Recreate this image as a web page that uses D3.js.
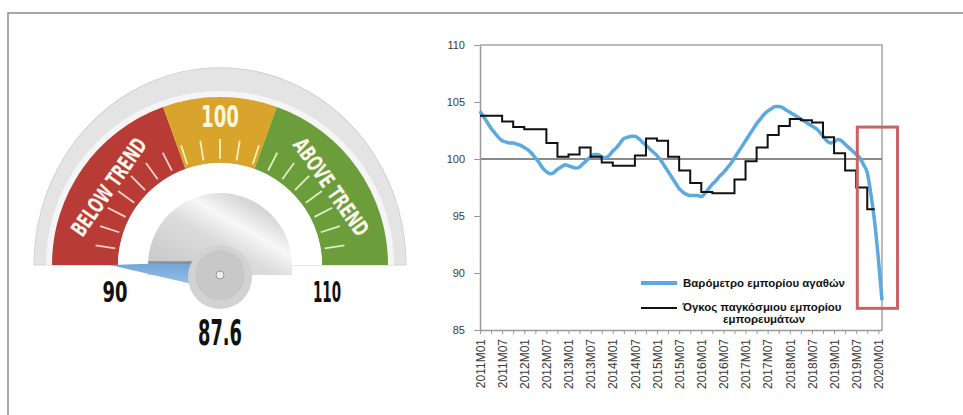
<!DOCTYPE html>
<html>
<head>
<meta charset="utf-8">
<script src="https://cdn.jsdelivr.net/npm/d3@7"></script>
<style>
  body { margin: 0; background: #fff; }
  svg { display: block; }
</style>
</head>
<body>
<svg id="chart" width="963" height="415"></svg>
<script>
// gauge
const gaugeValue = 87.6;
const gaugeMin = 90;
const gaugeMax = 110;
const bandBreaks = [90, 97.8, 102.2, 110];
const bandLabels = ['BELOW TREND', '100', 'ABOVE TREND'];
const bandColors = ['#b93b36', '#d9a42c', '#6b9e3b'];
const bandTickColors = ['#f4d2c8', '#fbefb8', '#dcefc4'];
const gaugeTicks = [91, 92, 93, 94, 95, 96, 97, 98, 99, 100, 101, 102, 103, 104, 105, 106, 107, 108, 109];

// line chart, months counted from 2011M01
const xLabels = ['2011M01', '2011M07', '2012M01', '2012M07', '2013M01', '2013M07', '2014M01', '2014M07',
  '2015M01', '2015M07', '2016M01', '2016M07', '2017M01', '2017M07', '2018M01', '2018M07',
  '2019M01', '2019M07', '2020M01'];
const yTicks = [85, 90, 95, 100, 105, 110];

// goods trade barometer, monthly 2011M01..2020M02
const barometer = [
  104.2, 103.7, 103.2, 102.7, 102.3, 101.9, 101.6, 101.5, 101.4, 101.4, 101.3, 101.2,
  101.0, 100.8, 100.5, 100.1, 99.7, 99.2, 98.9, 98.7, 98.8, 99.1, 99.3, 99.5,
  99.4, 99.3, 99.2, 99.3, 99.6, 99.9, 100.2, 100.4, 100.4, 100.2, 100.1, 100.3,
  100.7, 101.0, 101.4, 101.8, 101.9, 102.0, 102.0, 101.8, 101.5, 101.2, 100.9, 100.6,
  100.3, 99.9, 99.4, 98.9, 98.4, 97.9, 97.4, 97.1, 96.9, 96.8, 96.8, 96.8,
  96.7, 97.0, 97.4, 97.8, 98.1, 98.5, 98.8, 99.2, 99.6, 100.1, 100.6, 101.1,
  101.6, 102.1, 102.6, 103.1, 103.5, 103.9, 104.2, 104.4, 104.6, 104.6, 104.5, 104.3,
  104.1, 103.9, 103.7, 103.5, 103.3, 103.1, 102.9, 102.7, 102.4, 102.0, 101.6, 101.4,
  101.5, 101.7, 101.6, 101.3, 101.0, 100.7, 100.4, 100.1, 99.5, 98.8, 96.9, 94.5,
  91.3, 87.6
];

// merchandise trade volume, quarterly 2011Q1..2019Q4
const tradeVolume = [
  103.8, 103.8, 103.3, 102.8, 102.6, 102.6, 101.4, 100.2, 100.4, 101.0, 100.2, 99.7,
  99.4, 99.4, 100.3, 101.8, 101.6, 100.2, 99.0, 97.9, 97.1, 97.0, 97.0, 98.2,
  99.8, 101.0, 102.1, 102.9, 103.5, 103.4, 103.2, 101.9, 100.5, 99.0, 97.5, 95.6
];

const legendNames = ['Βαρόμετρο εμπορίου αγαθών', 'Όγκος παγκόσμιου εμπορίου', 'εμπορευμάτων'];

// highlighted recent period: months and values covered by the red box
const highlightMonths = [102.3, 113.2];
const highlightValues = [86.9, 102.8];

const svg = d3.select('#chart');
const condensed = "'Liberation Sans Narrow', 'DejaVu Sans Condensed', 'Arial Narrow', sans-serif";

// frame (top and left only)
svg.append('path')
  .attr('d', 'M8,415 L8,13 L963,13')
  .attr('fill', 'none')
  .attr('stroke', '#8c8c8c')
  .attr('stroke-width', 1.5);

drawGauge();
drawChart();

function drawGauge() {
  const defs = svg.append('defs');
  const dome = defs.append('linearGradient').attr('id', 'domeGrad')
    .attr('x1', 0).attr('y1', 1).attr('x2', 1).attr('y2', 0);
  [['0', '#c4c4c4'], ['0.45', '#dcdcdc'], ['0.62', '#f7f7f7'], ['0.78', '#d8d8d8'], ['1', '#c6c6c6']]
    .forEach(([o, c]) => dome.append('stop').attr('offset', o).attr('stop-color', c));
  const needleGrad = defs.append('linearGradient').attr('id', 'needleGrad')
    .attr('x1', 0).attr('y1', 0).attr('x2', 1).attr('y2', 0);
  needleGrad.append('stop').attr('offset', '0').attr('stop-color', '#9cc3e8');
  needleGrad.append('stop').attr('offset', '1').attr('stop-color', '#6fa3d6');

  const g = svg.append('g').attr('transform', 'translate(220,265)');
  const angle = d3.scaleLinear().domain([gaugeMin, gaugeMax]).range([-Math.PI / 2, Math.PI / 2]).clamp(true);
  const arc = d3.arc();

  // outer grey rim, a bit taller than wide
  g.append('path')
    .attr('d', arc({ innerRadius: 0, outerRadius: 186, startAngle: -Math.PI / 2, endAngle: Math.PI / 2 }))
    .attr('transform', 'scale(1,1.06)')
    .attr('fill', '#e4e4e4')
    .attr('stroke', '#d2d2d2');
  g.append('path')
    .attr('d', arc({ innerRadius: 168, outerRadius: 174, startAngle: -Math.PI / 2, endAngle: Math.PI / 2 }))
    .attr('fill', '#f5f5f5');

  // coloured bands
  for (let i = 0; i < bandColors.length; i++) {
    g.append('path')
      .attr('d', arc({ innerRadius: 102, outerRadius: 168, startAngle: angle(bandBreaks[i]), endAngle: angle(bandBreaks[i + 1]) }))
      .attr('fill', bandColors[i]);
  }

  // white inner ring
  g.append('path')
    .attr('d', arc({ innerRadius: 0, outerRadius: 102, startAngle: -Math.PI / 2, endAngle: Math.PI / 2 }))
    .attr('fill', '#fff');

  // ticks
  gaugeTicks.forEach(t => {
    const a = angle(t);
    const band = t < bandBreaks[1] ? 0 : t < bandBreaks[2] ? 1 : 2;
    g.append('line')
      .attr('x1', 106 * Math.sin(a)).attr('y1', -106 * Math.cos(a))
      .attr('x2', 126 * Math.sin(a)).attr('y2', -126 * Math.cos(a))
      .attr('stroke', bandTickColors[band])
      .attr('stroke-width', 1.8);
  });

  // band labels
  [0, 2].forEach(i => {
    const a = (angle(bandBreaks[i]) + angle(bandBreaks[i + 1])) / 2;
    const deg = a * 180 / Math.PI;
    g.append('text')
      .attr('transform', `translate(${136 * Math.sin(a)},${-136 * Math.cos(a)}) rotate(${deg})`)
      .attr('text-anchor', 'middle')
      .attr('dy', '0.36em')
      .attr('fill', '#fbf4ea')
      .attr('font-family', condensed)
      .attr('font-weight', 'bold')
      .attr('font-size', 22)
      .attr('textLength', 114)
      .attr('lengthAdjust', 'spacingAndGlyphs')
      .text(bandLabels[i]);
  });
  g.append('text')
    .attr('x', 0).attr('y', -138)
    .attr('text-anchor', 'middle')
    .attr('fill', '#fdf6d8')
    .attr('font-family', condensed)
    .attr('font-weight', 'bold')
    .attr('font-size', 31)
    .attr('textLength', 38)
    .attr('lengthAdjust', 'spacingAndGlyphs')
    .text(bandLabels[1]);

  // dome
  g.append('path')
    .attr('d', 'M-72,10 L-72,0 A72,72 0 0 1 72,0 L72,10 Z')
    .attr('fill', 'url(#domeGrad)');

  // needle
  const na = angle(gaugeValue) * 180 / Math.PI;
  const needle = g.append('g').attr('transform', `rotate(${na})`);
  needle.append('path')
    .attr('d', 'M0,-110 L3,-15 L-22,-15 Z')
    .attr('fill', 'url(#needleGrad)');
  needle.append('line')
    .attr('x1', 2.5).attr('y1', -72).attr('x2', 2.5).attr('y2', -15)
    .attr('stroke', '#8a8f96').attr('stroke-width', 2.5);

  // hub
  g.append('circle').attr('cx', 0).attr('cy', 12).attr('r', 32).attr('fill', '#d2d2d2');
  g.append('circle').attr('cx', 0).attr('cy', 10).attr('r', 25).attr('fill', '#c8c8c8');
  g.append('circle').attr('cx', 0).attr('cy', 10).attr('r', 4).attr('fill', '#efefef').attr('stroke', '#9a9a9a');

  // scale labels and value
  const scaleText = (txt, x, y, size, len) => g.append('text')
    .attr('x', x).attr('y', y)
    .attr('text-anchor', 'middle')
    .attr('fill', '#111')
    .attr('font-family', condensed)
    .attr('font-weight', 'bold')
    .attr('font-size', size)
    .attr('textLength', len)
    .attr('lengthAdjust', 'spacingAndGlyphs')
    .text(txt);
  scaleText(String(gaugeMin), -105, 37, 28, 25);
  scaleText(String(gaugeMax), 107, 37, 28, 28);
  scaleText(String(gaugeValue), 0, 80, 35, 44);
}

function drawChart() {
  const x = d3.scaleLinear().domain([0, 109]).range([480, 882]);
  const y = d3.scaleLinear().domain([85, 110]).range([330, 45]);
  const g = svg.append('g');

  // box top and right
  g.append('path')
    .attr('d', `M${x(0)},${y(110)} L${x(109)},${y(110)} L${x(109)},${y(85)}`)
    .attr('fill', 'none')
    .attr('stroke', '#a6a6a6')
    .attr('stroke-width', 1.5);

  // 100 reference line
  g.append('line')
    .attr('x1', x(0)).attr('x2', x(109))
    .attr('y1', y(100)).attr('y2', y(100))
    .attr('stroke', '#8a8a8a')
    .attr('stroke-width', 2);

  const yAxis = g.append('g')
    .attr('transform', `translate(${x(0)},0)`)
    .call(d3.axisLeft(y).tickValues(yTicks).tickSize(6).tickSizeOuter(0).tickPadding(9));
  yAxis.select('.domain').attr('stroke', '#999').attr('stroke-width', 1.5);
  yAxis.selectAll('line').attr('stroke', '#999');
  yAxis.selectAll('text')
    .attr('fill', '#3a3a3a')
    .attr('font-family', "'Liberation Sans', Arial, sans-serif")
    .attr('font-size', 11);

  const tickMonths = d3.range(0, 110, 3);
  const xAxis = g.append('g')
    .attr('transform', `translate(0,${y(85)})`)
    .call(d3.axisBottom(x).tickValues(tickMonths).tickSize(4).tickSizeOuter(0)
      .tickFormat(m => m % 6 === 0 ? xLabels[m / 6] : ''));
  xAxis.select('.domain').attr('stroke', '#999').attr('stroke-width', 1.5);
  xAxis.selectAll('line').attr('stroke', '#999');
  xAxis.selectAll('text')
    .attr('transform', 'rotate(-90)')
    .attr('text-anchor', 'end')
    .attr('x', -9)
    .attr('y', 0)
    .attr('dy', '0.35em')
    .attr('fill', '#3a3a3a')
    .attr('font-family', "'Liberation Sans', Arial, sans-serif")
    .attr('font-size', 12);

  // barometer
  g.append('path')
    .datum(barometer)
    .attr('fill', 'none')
    .attr('stroke', '#5aaae0')
    .attr('stroke-width', 3.5)
    .attr('stroke-linejoin', 'round')
    .attr('d', d3.line().x((d, i) => x(i)).y(d => y(d)).curve(d3.curveMonotoneX));

  // trade volume (quarterly steps, last quarter drawn up to its last month)
  const volPts = tradeVolume.map((v, i) => [i * 3, v]);
  volPts.push([(tradeVolume.length - 1) * 3 + 2, tradeVolume[tradeVolume.length - 1]]);
  g.append('path')
    .datum(volPts)
    .attr('fill', 'none')
    .attr('stroke', '#111')
    .attr('stroke-width', 2)
    .attr('d', d3.line().x(d => x(d[0])).y(d => y(d[1])).curve(d3.curveStepAfter));

  // highlight box
  g.append('rect')
    .attr('x', x(highlightMonths[0]))
    .attr('y', y(highlightValues[1]))
    .attr('width', x(highlightMonths[1]) - x(highlightMonths[0]))
    .attr('height', y(highlightValues[0]) - y(highlightValues[1]))
    .attr('fill', 'none')
    .attr('stroke', '#c96466')
    .attr('stroke-width', 3);

  // legend
  const lg = g.append('g').attr('font-family', "'Liberation Sans', Arial, sans-serif")
    .attr('font-weight', 'bold').attr('font-size', 11.5).attr('fill', '#111');
  lg.append('line').attr('x1', 641).attr('x2', 677).attr('y1', 283).attr('y2', 283)
    .attr('stroke', '#5aaae0').attr('stroke-width', 4);
  lg.append('line').attr('x1', 641).attr('x2', 677).attr('y1', 308).attr('y2', 308)
    .attr('stroke', '#111').attr('stroke-width', 2);
  lg.append('text').attr('x', 683).attr('y', 287)
    .attr('textLength', 162).attr('lengthAdjust', 'spacingAndGlyphs').text(legendNames[0]);
  lg.append('text').attr('x', 762).attr('y', 311).attr('text-anchor', 'middle')
    .attr('textLength', 159).attr('lengthAdjust', 'spacingAndGlyphs').text(legendNames[1]);
  lg.append('text').attr('x', 764).attr('y', 323).attr('text-anchor', 'middle')
    .attr('textLength', 82).attr('lengthAdjust', 'spacingAndGlyphs').text(legendNames[2]);
}
</script>
</body>
</html>
